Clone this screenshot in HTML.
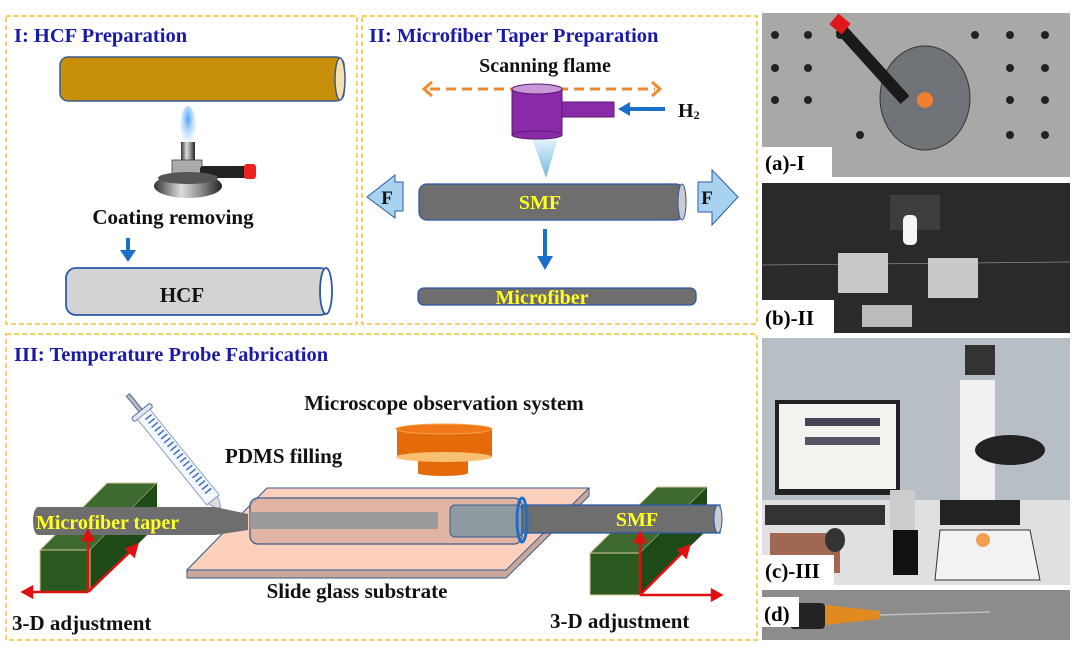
<!DOCTYPE html>
<html><head><meta charset="utf-8"><style>
html,body{margin:0;padding:0;background:#fff}
svg{display:block}
text{font-family:"Liberation Serif",serif;font-weight:bold}
</style></head><body>
<svg width="1080" height="646" viewBox="0 0 1080 646" xmlns="http://www.w3.org/2000/svg">
<defs>
<radialGradient id="fl" cx="50%" cy="30%" r="60%"><stop offset="0" stop-color="#4aa3ff"/><stop offset="1" stop-color="#e6f3ff" stop-opacity="0.3"/></radialGradient>
<linearGradient id="cone" x1="0" y1="0" x2="0" y2="1"><stop offset="0" stop-color="#e8f4fb"/><stop offset="1" stop-color="#6fb8de"/></linearGradient>
<linearGradient id="met" x1="0" y1="0" x2="1" y2="0"><stop offset="0" stop-color="#333"/><stop offset="0.4" stop-color="#ddd"/><stop offset="0.7" stop-color="#888"/><stop offset="1" stop-color="#222"/></linearGradient>
</defs>
<g fill="none" stroke="#f2c12e" stroke-width="1.5" stroke-dasharray="5,3">
<rect x="6" y="16" width="351" height="308"/>
<rect x="362" y="16" width="395" height="308"/>
<rect x="6" y="334" width="751" height="306"/>
</g>
<!-- Panel I -->
<text x="14" y="42" font-size="20.5" fill="#1a1aa8">I: HCF Preparation</text>
<rect x="60" y="57" width="284" height="44" rx="8" fill="#c8900a" stroke="#3b5a8c" stroke-width="1.5"/>
<ellipse cx="340" cy="79" rx="5" ry="21" fill="#f3e2b0" stroke="#3b5a8c" stroke-width="1.5"/>
<ellipse cx="188" cy="128" rx="8" ry="22" fill="url(#fl)"/>
<rect x="181" y="142" width="14" height="22" fill="url(#met)"/>
<rect x="172" y="160" width="30" height="18" fill="#aaa" stroke="#444" stroke-width="0.8"/>
<rect x="200" y="166" width="48" height="12" rx="3" fill="#222"/>
<rect x="244" y="164" width="12" height="15" rx="3" fill="#e22"/>
<ellipse cx="188" cy="186" rx="34" ry="12" fill="url(#met)"/>
<ellipse cx="188" cy="178" rx="30" ry="6" fill="#555"/>
<text x="173" y="224" font-size="21" fill="#111" text-anchor="middle">Coating removing</text>
<path d="M128 238 V252" stroke="#1b6fc9" stroke-width="4"/>
<polygon points="120,250 136,250 128,262" fill="#1b6fc9"/>
<rect x="66" y="268" width="264" height="47" rx="10" fill="#d3d3d3" stroke="#2c59a8" stroke-width="1.8"/>
<ellipse cx="326" cy="291" rx="6" ry="23" fill="#fff" stroke="#2c59a8" stroke-width="1.8"/>
<text x="182" y="302" font-size="21" fill="#111" text-anchor="middle">HCF</text>
<!-- Panel II -->
<text x="369" y="42" font-size="20.5" fill="#1a1aa8">II: Microfiber Taper Preparation</text>
<text x="545" y="72" font-size="20" fill="#111" text-anchor="middle">Scanning flame</text>
<line x1="430" y1="89" x2="655" y2="89" stroke="#f08a30" stroke-width="3" stroke-dasharray="10,6"/>
<polyline points="432,82 424,89 432,96" fill="none" stroke="#f08a30" stroke-width="3"/>
<polyline points="652,82 660,89 652,96" fill="none" stroke="#f08a30" stroke-width="3"/>
<polygon points="532,138 558,138 546,178" fill="url(#cone)"/>
<rect x="512" y="89" width="50" height="46" fill="#8a2aa8" stroke="#5a1a70"/>
<ellipse cx="537" cy="135" rx="25" ry="4" fill="#8a2aa8" stroke="#5a1a70"/>
<ellipse cx="537" cy="89" rx="25" ry="5" fill="#c898d8" stroke="#5a1a70"/>
<rect x="562" y="102" width="52" height="15" fill="#8a2aa8" stroke="#5a1a70"/>
<path d="M665 109 H628" stroke="#1b6fc9" stroke-width="4"/>
<polygon points="630,102 630,116 618,109" fill="#1b6fc9"/>
<text x="678" y="117" font-size="20" fill="#111">H<tspan font-size="12" dy="2">2</tspan></text>
<polygon points="395,175 395,182 403,182 403,211 395,211 395,218 367,197" fill="#a7d3f0" stroke="#2c59a8"/>
<polygon points="698,182 712,182 712,170 738,197 712,225 712,212 698,212" fill="#a7d3f0" stroke="#2c59a8"/>
<text x="387" y="204" font-size="19" fill="#111" text-anchor="middle">F</text>
<text x="707" y="204" font-size="19" fill="#111" text-anchor="middle">F</text>
<rect x="419" y="184" width="265" height="36" rx="8" fill="#6e6e6e" stroke="#2c59a8" stroke-width="1.3"/>
<ellipse cx="682" cy="202" rx="4" ry="18" fill="#ccc" stroke="#2c59a8"/>
<text x="540" y="209" font-size="20" fill="#ffff22" text-anchor="middle">SMF</text>
<path d="M545 229 V258" stroke="#1b6fc9" stroke-width="4"/>
<polygon points="537,256 553,256 545,270" fill="#1b6fc9"/>
<rect x="418" y="288" width="278" height="17" rx="6" fill="#6e6e6e" stroke="#2c59a8" stroke-width="1.3"/>
<text x="542" y="304" font-size="20" fill="#ffff22" text-anchor="middle">Microfiber</text>
<!-- Panel III -->
<text x="14" y="361" font-size="20.5" fill="#1a1aa8">III: Temperature Probe Fabrication</text>
<text x="444" y="410" font-size="21" fill="#111" text-anchor="middle">Microscope observation system</text>
<text x="225" y="463" font-size="21" fill="#111">PDMS filling</text>
<rect x="418" y="455" width="50" height="18" fill="#e56a0a"/>
<ellipse cx="443" cy="473" rx="25" ry="3" fill="#e56a0a"/>
<rect x="397" y="429" width="95" height="28" fill="#e56a0a"/>
<ellipse cx="444" cy="457" rx="48" ry="5" fill="#f8c070"/>
<ellipse cx="444" cy="429" rx="48" ry="5" fill="#f07818" stroke="#f4a050"/>
<g transform="translate(128,395) rotate(51)">
<rect x="0" y="-2" width="25" height="4" fill="#bbb" stroke="#4a6a9a"/>
<rect x="20" y="-12" width="5" height="24" rx="2" fill="#dfe8f5" stroke="#4a6a9a"/>
<rect x="25" y="-8" width="110" height="16" fill="#f4f7fc" stroke="#8aa0c0"/>
<path d="M30 -6 V2 M35 -6 V2 M40 -6 V2 M45 -6 V2 M50 -6 V2 M55 -6 V2 M60 -6 V2 M65 -6 V2 M70 -6 V2 M75 -6 V2 M80 -6 V2 M85 -6 V2 M90 -6 V2 M95 -6 V2 M100 -6 V2 M105 -6 V2 M110 -6 V2 M115 -6 V2 M120 -6 V2 M125 -6 V2" stroke="#3a70c8" stroke-width="1.5"/>
<polygon points="135,-6 145,-2 145,2 135,6" fill="#ddd" stroke="#8aa0c0"/>
<rect x="145" y="-1" width="10" height="2" fill="#999"/>
</g>
<polygon points="267,488 589,488 589,496 506,578 187,578 187,570" fill="#c9a89a" stroke="#3b5a8c"/>
<polygon points="267,488 589,488 506,570 187,570" fill="#fcd0bc" stroke="#3b5a8c"/>
<text x="357" y="598" font-size="21" fill="#111" text-anchor="middle">Slide glass substrate</text>
<polygon points="40,550 107,483 157,483 90,550" fill="#3c6a2f" stroke="#d9c79a"/>
<polygon points="90,550 157,483 157,525 90,592" fill="#1e4a18"/>
<rect x="40" y="550" width="50" height="42" fill="#2a5a20" stroke="#d9c79a"/>
<polygon points="590,553 657,487 707,487 640,553" fill="#3c6a2f" stroke="#d9c79a"/>
<polygon points="640,553 707,487 707,530 640,595" fill="#1e4a18"/>
<rect x="590" y="553" width="50" height="42" fill="#2a5a20" stroke="#d9c79a"/>
<path d="M38 507 H215 L248 514 V530 L215 535 H38 A5 14 0 0 1 38 507 Z" fill="#6e6e6e"/>
<text x="36" y="529" font-size="20" fill="#ffff22">Microfiber taper</text>
<rect x="250" y="498" width="272" height="46" rx="8" fill="#d6a89a" fill-opacity="0.7" stroke="#3b5a8c" stroke-width="1.3"/>
<rect x="250" y="512" width="188" height="17" fill="#9a9a9a"/>
<rect x="450" y="505" width="72" height="32" rx="5" fill="#8f9aa0" stroke="#3b5a8c"/>
<rect x="522" y="505" width="198" height="28" fill="#6e6e6e" stroke="#2c59a8" stroke-width="1.3"/>
<ellipse cx="718" cy="519" rx="4" ry="14" fill="#ccc" stroke="#2c59a8"/>
<ellipse cx="522" cy="520" rx="5" ry="22" fill="none" stroke="#1b6fc9" stroke-width="3"/>
<text x="637" y="526" font-size="20" fill="#ffff22" text-anchor="middle">SMF</text>
<g stroke="#e01010" stroke-width="2.5" fill="#e01010">
<path d="M88 592 V538 M88 592 H30 M88 592 L132 550 M640 595 V540 M640 595 H714 M640 595 L684 551" fill="none"/>
<polygon points="83,540 93,540 88,531"/>
<polygon points="32,587 32,597 23,592"/>
<polygon points="127,549 134,556 137,545"/>
<polygon points="635,542 645,542 640,533"/>
<polygon points="712,590 712,600 721,595"/>
<polygon points="679,550 686,557 689,546"/>
</g>
<text x="12" y="630" font-size="21" fill="#111">3-D adjustment</text>
<text x="550" y="628" font-size="21" fill="#111">3-D adjustment</text>
<!-- photos -->
<rect x="762" y="13" width="308" height="164" fill="#a8a8a6"/>
<g fill="#222">
<circle cx="775" cy="35" r="4"/><circle cx="808" cy="35" r="4"/><circle cx="840" cy="35" r="4"/><circle cx="975" cy="35" r="4"/><circle cx="1010" cy="35" r="4"/><circle cx="1045" cy="35" r="4"/>
<circle cx="775" cy="68" r="4"/><circle cx="808" cy="68" r="4"/><circle cx="1010" cy="68" r="4"/><circle cx="1045" cy="68" r="4"/>
<circle cx="775" cy="100" r="4"/><circle cx="808" cy="100" r="4"/><circle cx="1010" cy="100" r="4"/><circle cx="1045" cy="100" r="4"/>
<circle cx="1010" cy="135" r="4"/><circle cx="1045" cy="135" r="4"/><circle cx="860" cy="135" r="4"/>
</g>
<ellipse cx="925" cy="98" rx="45" ry="52" fill="#707478" stroke="#333"/>
<path d="M840 28 L905 100" stroke="#1a1a1a" stroke-width="12"/>
<rect x="832" y="17" width="16" height="14" fill="#e01818" transform="rotate(40 840 24)"/>
<circle cx="925" cy="100" r="8" fill="#f08030"/>
<rect x="762" y="147" width="70" height="30" fill="#fff"/>
<text x="765" y="170" font-size="21" fill="#000">(a)-I</text>
<rect x="762" y="183" width="308" height="150" fill="#2a2a2c"/>
<rect x="890" y="195" width="50" height="35" fill="#3e3e40"/>
<rect x="903" y="215" width="14" height="30" rx="5" fill="#f4f4f4"/>
<line x1="762" y1="265" x2="1070" y2="262" stroke="#888" stroke-width="0.8"/>
<rect x="838" y="253" width="50" height="40" fill="#c8c8c8"/>
<rect x="928" y="258" width="50" height="40" fill="#c8c8c8"/>
<rect x="862" y="305" width="50" height="22" fill="#bbb"/>
<rect x="762" y="300" width="72" height="33" fill="#fff"/>
<text x="765" y="325" font-size="21" fill="#000">(b)-II</text>
<rect x="762" y="338" width="308" height="247" fill="#b7bec6"/>
<rect x="762" y="500" width="308" height="85" fill="#e0e0e2"/>
<rect x="775" y="400" width="125" height="95" fill="#222"/>
<rect x="779" y="404" width="117" height="85" fill="#f4f2ee"/>
<rect x="805" y="418" width="75" height="8" fill="#445"/>
<rect x="805" y="437" width="75" height="8" fill="#556"/>
<rect x="765" y="505" width="120" height="20" fill="#333"/>
<rect x="770" y="533" width="70" height="40" fill="#a06850"/>
<ellipse cx="835" cy="540" rx="10" ry="12" fill="#333"/>
<rect x="890" y="490" width="25" height="40" fill="#ccc"/>
<rect x="893" y="530" width="25" height="45" fill="#111"/>
<rect x="960" y="380" width="35" height="120" fill="#f0f0f0"/>
<rect x="965" y="345" width="30" height="30" fill="#333"/>
<ellipse cx="1010" cy="450" rx="35" ry="15" fill="#222"/>
<rect x="940" y="500" width="80" height="25" fill="#222"/>
<polygon points="940,530 1030,530 1040,580 935,580" fill="#f2f2f2" stroke="#333"/>
<circle cx="983" cy="540" r="7" fill="#f0a050"/>
<rect x="762" y="555" width="72" height="30" fill="#fff"/>
<text x="765" y="578" font-size="21" fill="#000">(c)-III</text>
<rect x="762" y="590" width="308" height="50" fill="#8c8c8c"/>
<rect x="790" y="603" width="35" height="26" rx="4" fill="#222"/>
<polygon points="825,605 880,611 880,619 825,625" fill="#e08a20"/>
<line x1="880" y1="615" x2="990" y2="612" stroke="#c0c0c0" stroke-width="1.5"/>
<rect x="762" y="597" width="37" height="30" fill="#fff"/>
<text x="764" y="621" font-size="21" fill="#000">(d)</text>
</svg>
</body></html>
